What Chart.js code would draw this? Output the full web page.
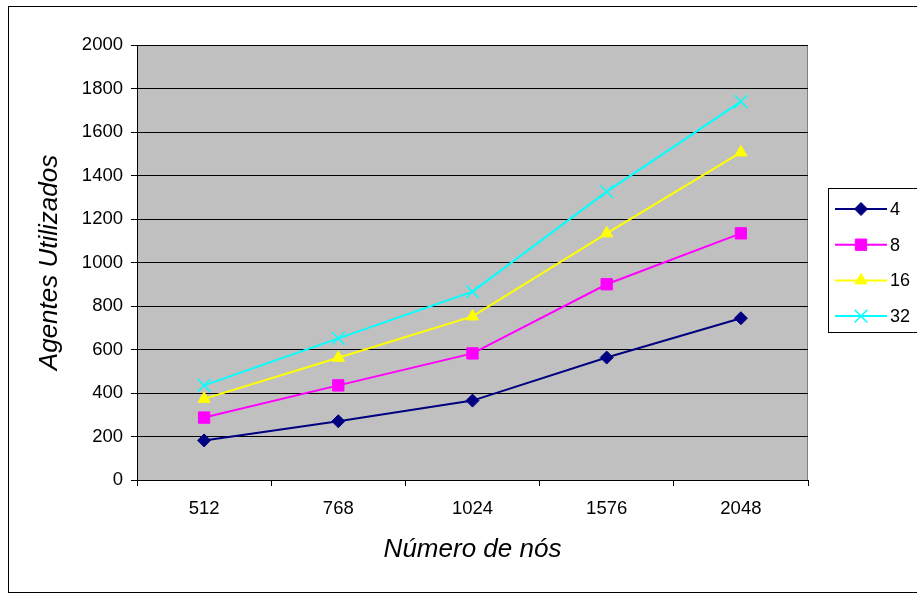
<!DOCTYPE html>
<html>
<head>
<meta charset="utf-8">
<script src="https://cdn.jsdelivr.net/npm/chart.js@4/dist/chart.umd.min.js"></script>
<style>
  html, body { margin: 0; padding: 0; background: #ffffff; }
  #wrap { width: 917px; height: 595px; }
</style>
</head>
<body>
<div id="wrap"><canvas id="chart" width="917" height="595"></canvas></div>
<script>
// Number of nodes (categories)
const nodes = ['512', '768', '1024', '1576', '2048'];
// Agents used, one series per agent-group size
const seriesNames = ['4', '8', '16', '32'];
const agents4  = [182, 270, 365, 563, 744];
const agents8  = [287, 435, 582, 900, 1134];
const agents16 = [373, 562, 752, 1134, 1506];
const agents32 = [435, 651, 866, 1326, 1740];
const yTicks = [0, 200, 400, 600, 800, 1000, 1200, 1400, 1600, 1800, 2000];

const FONT = '"Liberation Sans", Arial, sans-serif';

// Grey plot background, outer frame and plot border
const framePlugin = {
  id: 'frame',
  beforeDraw(chart) {
    const { ctx, chartArea: a } = chart;
    ctx.save();
    ctx.fillStyle = '#ffffff';
    ctx.fillRect(0, 0, chart.width, chart.height);
    ctx.strokeStyle = '#000000';
    ctx.lineWidth = 1;
    ctx.strokeRect(8.5, 6.5, chart.width + 10, 586);
    ctx.fillStyle = '#c0c0c0';
    ctx.fillRect(a.left, a.top, a.right - a.left, a.bottom - a.top);
    ctx.strokeStyle = '#808080';
    ctx.beginPath();
    ctx.moveTo(a.right - 0.5, a.top);
    ctx.lineTo(a.right - 0.5, a.bottom);
    ctx.stroke();
    ctx.restore();
  }
};

// Legend box with line + marker samples
const lineLegendPlugin = {
  id: 'lineLegend',
  afterDraw(chart) {
    const { ctx } = chart;
    const box = { x: 828.5, y: 188.5, w: 120, h: 144 };
    ctx.save();
    ctx.fillStyle = '#ffffff';
    ctx.strokeStyle = '#000000';
    ctx.lineWidth = 1;
    ctx.fillRect(box.x, box.y, box.w, box.h);
    ctx.strokeRect(box.x, box.y, box.w, box.h);
    chart.data.datasets.forEach((ds, i) => {
      const y = 209 + i * 35.7;
      ctx.strokeStyle = ds.borderColor;
      ctx.lineWidth = 2;
      ctx.beginPath();
      ctx.moveTo(835, y);
      ctx.lineTo(887, y);
      ctx.stroke();
      ctx.fillStyle = ds.pointBackgroundColor;
      ctx.strokeStyle = ds.pointBorderColor;
      ctx.lineWidth = ds.pointBorderWidth;
      Chart.helpers.drawPoint(ctx, {
        pointStyle: ds.pointStyle,
        radius: ds.pointRadius,
        rotation: 0,
        borderWidth: ds.pointBorderWidth
      }, 861, y);
      ctx.fillStyle = '#000000';
      ctx.font = '18px ' + FONT;
      ctx.textBaseline = 'middle';
      ctx.textAlign = 'left';
      ctx.fillText(ds.label, 890, y + 1);
    });
    ctx.restore();
  }
};

function series(label, data, color, style, radius, borderWidth, fill) {
  return {
    label: label,
    data: data,
    borderColor: color,
    borderWidth: 2,
    pointStyle: style,
    pointRadius: radius,
    pointHoverRadius: radius,
    pointBackgroundColor: fill,
    pointBorderColor: color,
    pointBorderWidth: borderWidth,
    tension: 0,
    fill: false
  };
}

new Chart(document.getElementById('chart'), {
  type: 'line',
  data: {
    labels: nodes,
    datasets: [
      series(seriesNames[0], agents4, '#000080', 'rectRot', 6.5, 1, '#000080'),
      series(seriesNames[1], agents8, '#ff00ff', 'rect', 8, 1, '#ff00ff'),
      series(seriesNames[2], agents16, '#ffff00', 'triangle', 7, 1, '#ffff00'),
      series(seriesNames[3], agents32, '#00ffff', 'crossRot', 9, 1.5, '#00ffff')
    ]
  },
  options: {
    responsive: false,
    animation: false,
    devicePixelRatio: 1,
    layout: { padding: { left: 0, top: 45, right: 109, bottom: 0 } },
    plugins: {
      legend: { display: false },
      tooltip: { enabled: false }
    },
    scales: {
      x: {
        type: 'category',
        offset: true,
        grid: {
          offset: true,
          drawOnChartArea: false,
          drawTicks: true,
          tickLength: 6,
          color: '#000000'
        },
        border: { color: '#000000', width: 1 },
        ticks: {
          color: '#000000',
          font: { family: FONT, size: 18.5 },
          padding: 12,
          maxRotation: 0
        },
        title: {
          display: true,
          text: 'Número de nós',
          color: '#000000',
          font: { family: FONT, size: 26, style: 'italic' },
          padding: { top: 0, bottom: 30 }
        },
        afterFit(scale) { scale.height = 115; }
      },
      y: {
        min: 0,
        max: 2000,
        afterBuildTicks(scale) { scale.ticks = yTicks.map(v => ({ value: v })); },
        grid: {
          color: '#000000',
          drawTicks: true,
          tickLength: 6,
          lineWidth: 1
        },
        border: { color: '#000000', width: 1 },
        ticks: {
          color: '#000000',
          font: { family: FONT, size: 18.5 },
          padding: 8,
          callback: (v) => String(v)
        },
        title: {
          display: true,
          text: 'Agentes Utilizados',
          color: '#000000',
          font: { family: FONT, size: 26, style: 'italic' },
          padding: { top: 34, bottom: 0 }
        },
        afterFit(scale) { scale.width = 137; }
      }
    }
  },
  plugins: [framePlugin, lineLegendPlugin]
});
</script>
</body>
</html>
